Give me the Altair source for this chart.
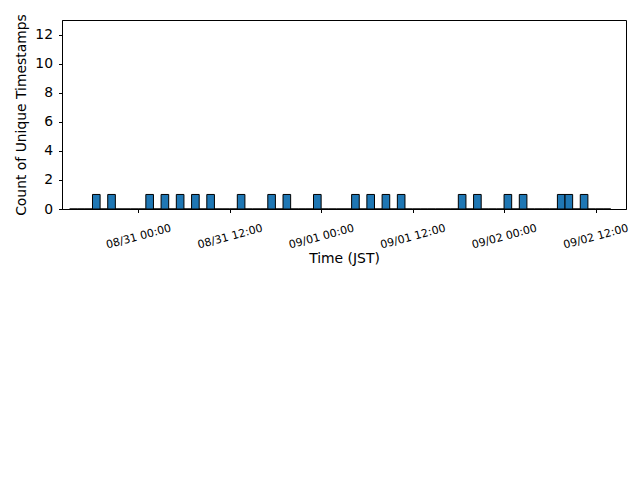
import altair as alt
import pandas as pd

# hourly bins that hold one unique timestamp (JST, shown as UTC so nothing shifts)
bar_starts = [
    "2024-08-30T18:00:00Z", "2024-08-30T20:00:00Z",
    "2024-08-31T01:00:00Z", "2024-08-31T03:00:00Z", "2024-08-31T05:00:00Z",
    "2024-08-31T07:00:00Z", "2024-08-31T09:00:00Z", "2024-08-31T13:00:00Z",
    "2024-08-31T17:00:00Z", "2024-08-31T19:00:00Z", "2024-08-31T23:00:00Z",
    "2024-09-01T04:00:00Z", "2024-09-01T06:00:00Z", "2024-09-01T08:00:00Z",
    "2024-09-01T10:00:00Z", "2024-09-01T18:00:00Z", "2024-09-01T20:00:00Z",
    "2024-09-02T00:00:00Z", "2024-09-02T02:00:00Z", "2024-09-02T07:00:00Z",
    "2024-09-02T08:00:00Z", "2024-09-02T10:00:00Z",
]
bar_counts = [1] * len(bar_starts)

# first and last bin edge of the histogram, and the visible x range
bins_start = "2024-08-30T15:00:00Z"
bins_end = "2024-09-02T14:00:00Z"
x_domain = ["2024-08-30T14:00:00Z", "2024-09-02T16:00:00Z"]

x_ticks = [
    "2024-08-31T00:00:00Z", "2024-08-31T12:00:00Z", "2024-09-01T00:00:00Z",
    "2024-09-01T12:00:00Z", "2024-09-02T00:00:00Z", "2024-09-02T12:00:00Z",
]
y_ticks = [0, 2, 4, 6, 8, 10, 12]


def ms(s):
    return int(pd.Timestamp(s).value // 10**6)


# full hourly table, empty bins get a count of 0 (drawn as flat outlines)
hours = pd.date_range(bins_start, bins_end, freq="h", inclusive="left")
counts = dict(zip([pd.Timestamp(s) for s in bar_starts], bar_counts))
df = pd.DataFrame({
    "start": [ms(h) for h in hours],
    "end": [ms(h + pd.Timedelta(hours=1)) for h in hours],
    "count": [counts.get(h, 0) for h in hours],
})

font = "DejaVu Sans"

x_enc = alt.X(
    "start:T",
    title="Time (JST)",
    scale=alt.Scale(type="utc", domain=[ms(d) for d in x_domain], nice=False),
    axis=alt.Axis(
        values=[ms(t) for t in x_ticks],
        labelExpr="utcFormat(datum.value, '%m/%d %H:%M')",
        labelAngle=345,
        labelAlign="center",
        labelBaseline="middle",
        labelPadding=24,
        labelFontSize=11,
        titleY=49,
        titleBaseline="middle",
    ),
)

y_enc = alt.Y(
    "count:Q",
    title="Count of Unique Timestamps",
    scale=alt.Scale(domain=[0, 13], nice=False),
    axis=alt.Axis(
        values=y_ticks,
        labelFontSize=13.9,
        labelPadding=6,
        titleX=-41,
        titleY=94.5,
        titleAngle=270,
        titleAlign="center",
        titleBaseline="middle",
    ),
)

chart = alt.Chart(df).mark_rect(
    fill="#1f77b4", stroke="black", strokeWidth=1
).encode(
    x=x_enc,
    x2="end:T",
    y=y_enc,
    y2=alt.datum(0),
).properties(
    width=564,
    height=189,
    autosize=alt.AutoSizeParams(type="none"),
    padding={"left": 54, "top": 12, "right": 6, "bottom": 250},
).configure_view(
    stroke="black", strokeWidth=1
).configure_axis(
    grid=False,
    domainColor="black",
    tickColor="black",
    tickSize=3.5,
    labelColor="black",
    labelFont=font,
    titleFont=font,
    titleFontSize=13.9,
    titleFontWeight="normal",
    titleColor="black",
)

chart.save("out.html", embed_options={"renderer": "svg", "actions": False})
